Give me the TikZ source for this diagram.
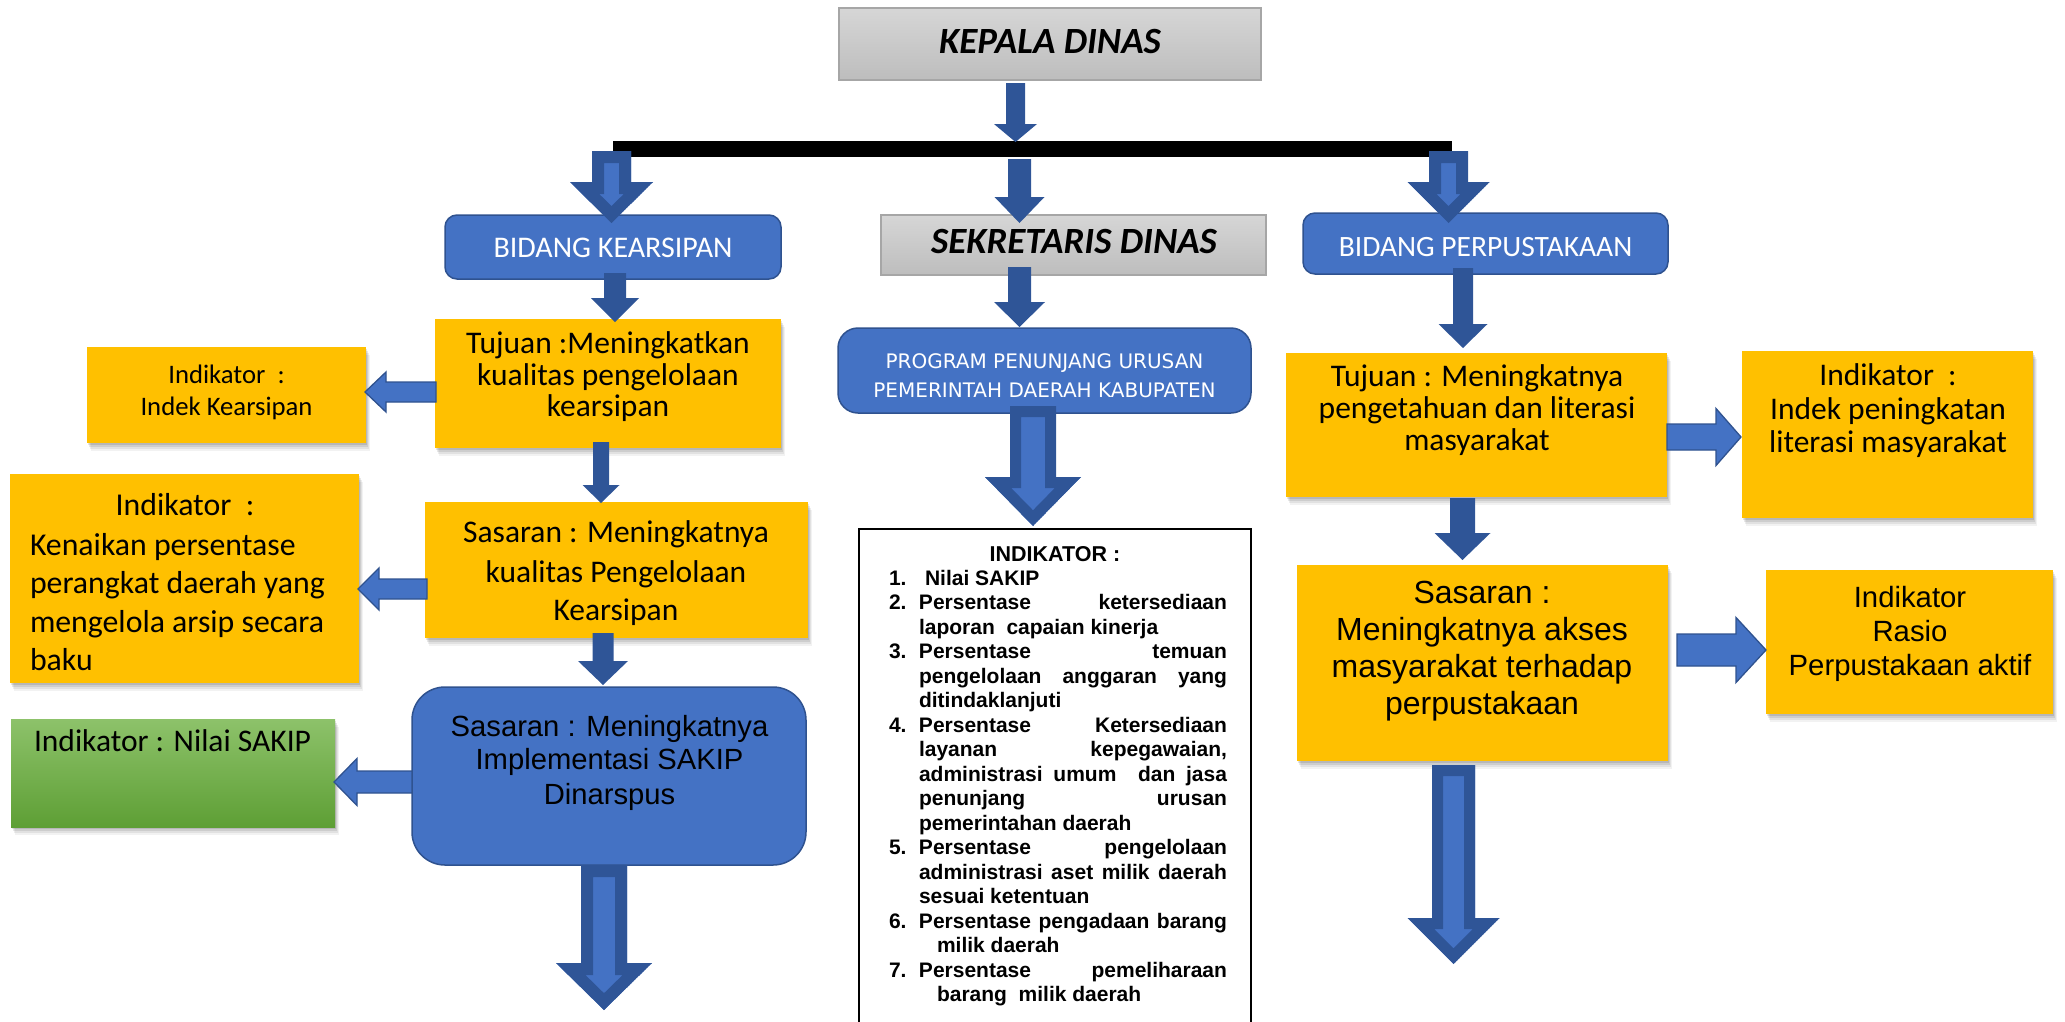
\documentclass[tikz,border=0pt]{standalone}
\usepackage{fontspec}
\setmainfont{Carlito}
\newfontfamily\arialf{Liberation Sans}
\newfontfamily\dejavuf{DejaVu Sans}
\usetikzlibrary{calc,shadows}

\definecolor{arrowdark}{HTML}{2F5597}
\definecolor{lightblue}{HTML}{4472C4}
\definecolor{boxline}{HTML}{2F528F}
\definecolor{gold}{HTML}{FFC000}
\definecolor{graytop}{HTML}{D6D6D6}
\definecolor{graybot}{HTML}{BDBDBD}
\definecolor{grayline}{HTML}{A6A6A6}
\definecolor{greentop}{HTML}{8DC26A}
\definecolor{greenbot}{HTML}{5E9F35}

% down arrow: from (shaft top, x of arrow), to (tip y), shaft half width, head half width, head length
\newcommand\dpath[5]{let \p1=(#1), \p2=(#2) in (\x1-#3pt,\y1) -- (\x1+#3pt,\y1) -- (\x1+#3pt,\y2+#5pt) -- (\x1+#4pt,\y2+#5pt) -- (\x1,\y2) -- (\x1-#4pt,\y2+#5pt) -- (\x1-#3pt,\y2+#5pt) -- cycle}
% left arrow
\newcommand\lpath[5]{let \p1=(#1), \p2=(#2) in (\x1,\y1+#3pt) -- (\x2+#5pt,\y1+#3pt) -- (\x2+#5pt,\y1+#4pt) -- (\x2,\y1) -- (\x2+#5pt,\y1-#4pt) -- (\x2+#5pt,\y1-#3pt) -- (\x1,\y1-#3pt) -- cycle}
% right arrow
\newcommand\rpath[5]{let \p1=(#1), \p2=(#2) in (\x1,\y1+#3pt) -- (\x2-#5pt,\y1+#3pt) -- (\x2-#5pt,\y1+#4pt) -- (\x2,\y1) -- (\x2-#5pt,\y1-#4pt) -- (\x2-#5pt,\y1-#3pt) -- (\x1,\y1-#3pt) -- cycle}
% outlined (hollow-look) down arrow
\newcommand\outarrow[6]{\begin{scope}\clip \dpath{#1}{#2}{#3}{#4}{#5};
\path[fill=lightblue, draw=arrowdark, line width=#6pt, miter limit=25] \dpath{#1}{#2}{#3}{#4}{#5};\end{scope}}
\newcommand\litem[3]{\hangindent=#1\hangafter=1\noindent\makebox[30pt][l]{#2}#3\par}

\tikzset{
  box/.style={inner sep=0pt, outer sep=0pt},
  softshadow/.style={
    general shadow={shadow xshift=1pt, shadow yshift=-2pt, opacity=0.10, fill=black},
    general shadow={shadow xshift=2pt, shadow yshift=-4pt, opacity=0.09, fill=black},
    general shadow={shadow xshift=3pt, shadow yshift=-6pt, opacity=0.07, fill=black},
    general shadow={shadow xshift=4pt, shadow yshift=-8pt, opacity=0.05, fill=black}},
  ybox/.style={box, fill=gold, softshadow},
  bbox/.style={box, fill=lightblue, draw=boxline, line width=1.5pt, rounded corners=12pt},
  gbox/.style={box, top color=graytop, bottom color=graybot, draw=grayline, line width=1.5pt},
  tx/.style={inner sep=0pt, outer sep=0pt, anchor=base},
  txl/.style={inner sep=0pt, outer sep=0pt, anchor=base west},
  solidarrow/.style={fill=arrowdark},
  lightarrow/.style={fill=lightblue, draw=boxline, line width=1.3pt},
  calib/.style={font=\fontsize{31.5pt}{38pt}\selectfont},
  arl/.style={font=\arialf\fontsize{#1pt}{#1pt}\selectfont},
}

\begin{document}
\begin{tikzpicture}[x=1pt,y=-1pt]
\useasboundingbox (0,0) rectangle (2065,1021);
\clip (0,0) rectangle (2065,1021);

% ---------- boxes ----------
\node[gbox, minimum width=422pt, minimum height=72pt] (kd) at (1050,44) {};
\node[fill=black, box, minimum width=839pt, minimum height=16pt] (bar) at (1032.5,149) {};
\node[gbox, minimum width=385pt, minimum height=60pt] (sek) at (1073.5,245) {};
\node[bbox, minimum width=336pt, minimum height=64pt] (bk) at (613,247) {};
\node[bbox, minimum width=365pt, minimum height=61pt] (bp) at (1485.5,243.5) {};
\node[bbox, rounded corners=20pt, minimum width=413pt, minimum height=85pt] (prog) at (1044.5,370.5) {};
\node[box, fill=white, draw=black, line width=2.5pt, minimum width=392pt, minimum height=511pt] (indC) at (1055,784.5) {};

\node[ybox, minimum width=346pt, minimum height=129pt] (tujL) at (608,383.5) {};
\node[ybox, minimum width=279pt, minimum height=96pt] (indL1) at (226.5,395) {};
\node[ybox, minimum width=383pt, minimum height=136pt] (sasL) at (616.5,570) {};
\node[ybox, minimum width=349pt, minimum height=209pt] (indL2) at (184.5,578.5) {};
\node[bbox, rounded corners=33pt, minimum width=394pt, minimum height=178pt] (sakip) at (609,776) {};
\node[box, top color=greentop, bottom color=greenbot, softshadow, minimum width=324pt, minimum height=108pt] (green) at (173,773) {};

\node[ybox, minimum width=381pt, minimum height=144pt] (tujR) at (1476.5,425) {};
\node[ybox, minimum width=291pt, minimum height=167pt] (indR1) at (1887.5,434.5) {};
\node[ybox, minimum width=371pt, minimum height=196pt] (sasR) at (1482.5,663) {};
\node[ybox, minimum width=287pt, minimum height=144pt] (indR2) at (1909.5,642) {};

\coordinate (sakipEnd) at (604,1010);
\coordinate (sasREnd) at (1453.5,964);

% ---------- arrows ----------
\fill[solidarrow] \dpath{$(kd.south)+(-34.5,3)$}{$(bar.north)+(0,1)$}{9.5}{21.5}{18};
\outarrow{$(bar.south west)+(-1.5,-6)$}{$(bk.north)+(0,8)$}{19.5}{41.5}{41}{24}
\fill[solidarrow] \dpath{$(bar.south)+(-13,2)$}{$(sek.north)+(0,8)$}{11.5}{25}{26};
\outarrow{$(bar.south east)+(-3.5,-6)$}{$(bp.north)+(0,10)$}{19.5}{41}{41}{24}
\fill[solidarrow] \dpath{$(bk.south)+(2,-6)$}{$(tujL.north)+(0,3)$}{11}{24}{24};
\fill[solidarrow] \dpath{$(sek.south)+(-54,-8)$}{$(prog.north)+(0,-1)$}{11.5}{25.5}{25};
\fill[solidarrow] \dpath{$(bp.south)+(-22.5,-6)$}{$(tujR.north)+(0,-5)$}{10}{24.5}{24};
\path[lightarrow] \lpath{$(tujL.west)+(1,8.5)$}{$(indL1.east)+(-1,0)$}{10}{20}{21};
\fill[solidarrow] \dpath{$(tujL.south)+(-7,-6)$}{$(sasL.north)+(0,1)$}{8}{18.5}{18};
\path[lightarrow] \lpath{$(sasL.west)+(2,19)$}{$(indL2.east)+(-1,0)$}{10}{21}{21};
\fill[solidarrow] \dpath{$(sasL.south)+(-13.5,-5)$}{$(sakip.north)+(0,-2)$}{10.5}{25}{24};
\path[lightarrow] \lpath{$(sakip.west)+(0,6)$}{$(green.east)+(-1,0)$}{11}{23.5}{23};
\outarrow{$(sakip.south)+(-5,0)$}{sakipEnd}{23}{48}{47}{24}
\outarrow{$(prog.south)+(-11.5,-7)$}{$(indC.north)+(0,-3)$}{23}{48}{49}{22}
\path[lightarrow] \rpath{$(tujR.east)+(0,12)$}{$(indR1.west)+(-1,0)$}{13}{28.5}{25};
\fill[solidarrow] \dpath{$(tujR.south)+(-14,1)$}{$(sasR.north)+(0,-5)$}{12.5}{28}{27};
\path[lightarrow] \rpath{$(sasR.east)+(9,-13)$}{indR2.west}{16}{32.5}{30};
\outarrow{$(sasR.south)+(-29,4)$}{sasREnd}{21.5}{46}{46}{22}

% ---------- texts ----------
\node[tx, font=\bfseries\itshape\fontsize{37pt}{42pt}\selectfont] (kdT) at (1050,53) {KEPALA DINAS};
\node[tx, font=\bfseries\itshape\fontsize{37pt}{42pt}\selectfont] (sekT) at (1074,253) {SEKRETARIS DINAS};
\node[tx, text=white, font=\fontsize{30pt}{36pt}\selectfont] (bkT) at (613,257) {BIDANG KEARSIPAN};
\node[tx, text=white, font=\fontsize{29.5pt}{35pt}\selectfont] (bpT) at (1485.5,256) {BIDANG PERPUSTAKAAN};
\node[tx, text=white, font=\dejavuf\fontsize{20pt}{24pt}\selectfont] (progT1) at (1044.5,368) {PROGRAM PENUNJANG URUSAN};
\node[tx, text=white, font=\dejavuf\fontsize{20pt}{24pt}\selectfont] (progT2) at (1044.5,397) {PEMERINTAH DAERAH KABUPATEN};

\node[tx, calib] (tujL1) at (608,353) {Tujuan :Meningkatkan};
\node[tx, calib] (tujL2) at (608,385) {kualitas pengelolaan};
\node[tx, calib] (tujL3) at (608,416) {kearsipan};

\node[tx, font=\fontsize{26.7pt}{32pt}\selectfont] (indL1a) at (226.5,383) {Indikator\ \ :};
\node[tx, font=\fontsize{26.7pt}{32pt}\selectfont] (indL1b) at (226.5,415) {Indek Kearsipan};

\node[tx, calib] (sasL1) at (616,542) {Sasaran : Meningkatnya};
\node[tx, calib] (sasL2) at (616,582) {kualitas Pengelolaan};
\node[tx, calib] (sasL3) at (616,620) {Kearsipan};

\node[tx, font=\fontsize{31.8pt}{38pt}\selectfont] (indL2a) at (185,515) {Indikator\ \ :};
\node[txl, font=\fontsize{31.8pt}{38pt}\selectfont] (indL2b) at (30,555) {Kenaikan persentase};
\node[txl, font=\fontsize{31.8pt}{38pt}\selectfont] (indL2c) at (30,593) {perangkat daerah yang};
\node[txl, font=\fontsize{31.8pt}{38pt}\selectfont] (indL2d) at (30,632) {mengelola arsip secara};
\node[txl, font=\fontsize{31.8pt}{38pt}\selectfont] (indL2e) at (30,670) {baku};

\node[tx, calib] (greenT) at (172.5,751) {Indikator : Nilai SAKIP};

\node[tx, arl=29.2] (sak1) at (609.5,736) {Sasaran : Meningkatnya};
\node[tx, arl=29.2] (sak2) at (609.5,769) {Implementasi SAKIP};
\node[tx, arl=29.2] (sak3) at (609.5,804) {Dinarspus};

\node[tx, calib] (tujR1) at (1477,386) {Tujuan : Meningkatnya};
\node[tx, calib] (tujR2) at (1477,418) {pengetahuan dan literasi};
\node[tx, calib] (tujR3) at (1477,450) {masyarakat};

\node[tx, calib] (indR1a) at (1888,385.5) {Indikator\ \ :};
\node[tx, calib] (indR1b) at (1888,419) {Indek peningkatan};
\node[tx, calib] (indR1c) at (1888,452) {literasi masyarakat};

\node[tx, arl=32] (sasR1) at (1482,603) {Sasaran :};
\node[tx, arl=32] (sasR2) at (1482,640) {Meningkatnya akses};
\node[tx, arl=32] (sasR3) at (1482,677.6) {masyarakat terhadap};
\node[tx, arl=32] (sasR4) at (1482,714) {perpustakaan};

\node[tx, arl=29.3] (indR2a) at (1910,607) {Indikator};
\node[tx, arl=29.3] (indR2b) at (1910,641) {Rasio};
\node[tx, arl=29.3] (indR2c) at (1910,675) {Perpustakaan aktif};

\node[tx, font=\arialf\bfseries\fontsize{21.5pt}{24.5pt}\selectfont] (indCH) at (1055,561) {INDIKATOR :};
\node[txl, font=\arialf\bfseries\fontsize{21pt}{24.5pt}\selectfont] (indCL) at (889,585) {\parbox[t]{338pt}{\fontsize{21pt}{24.5pt}\selectfont
\hyphenpenalty=10000 \exhyphenpenalty=10000 \tolerance=10000 \hbadness=10000
\litem{30pt}{1.}{\hspace{6pt}Nilai SAKIP}
\litem{30pt}{2.}{Persentase ketersediaan\linebreak laporan\ \ capaian kinerja}
\litem{30pt}{3.}{Persentase temuan\linebreak pengelolaan anggaran yang\linebreak ditindaklanjuti}
\litem{30pt}{4.}{Persentase Ketersediaan\linebreak layanan kepegawaian,\linebreak administrasi umum\ \ dan jasa\linebreak penunjang urusan\linebreak pemerintahan daerah}
\litem{30pt}{5.}{Persentase pengelolaan\linebreak administrasi aset milik daerah\linebreak sesuai ketentuan}
\litem{48pt}{6.}{Persentase pengadaan barang\linebreak milik daerah}
\litem{48pt}{7.}{Persentase pemeliharaan\linebreak barang\ \ milik daerah}}};

\end{tikzpicture}
\end{document}
